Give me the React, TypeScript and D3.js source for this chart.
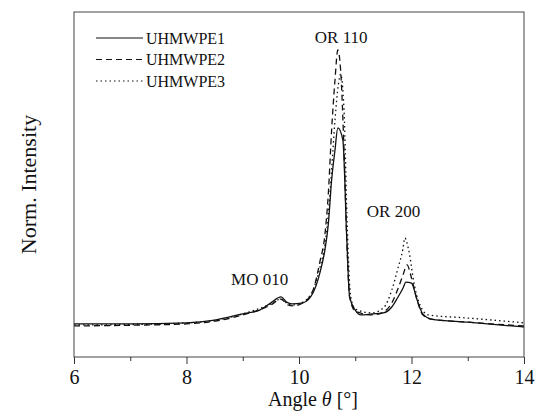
import { useEffect, useRef } from 'react'
import * as d3 from 'd3'

// diffraction angle (deg) and normalised intensity for each sample
const angle1 = [6.0, 7.0, 8.0, 8.5, 9.0, 9.3, 9.5, 9.68, 9.78, 9.87, 10.07, 10.25, 10.37, 10.46, 10.52, 10.58, 10.64, 10.69, 10.78, 10.85, 10.9, 11.0, 11.1, 11.3, 11.5, 11.65, 11.75, 11.85, 11.9, 12.0, 12.1, 12.2, 12.35, 13.0, 14.0]
const uhmwpe1 = [0.096, 0.096, 0.099, 0.107, 0.125, 0.136, 0.157, 0.174, 0.159, 0.154, 0.157, 0.186, 0.243, 0.31, 0.383, 0.513, 0.6, 0.664, 0.629, 0.339, 0.174, 0.136, 0.122, 0.125, 0.128, 0.145, 0.171, 0.2, 0.217, 0.214, 0.165, 0.125, 0.11, 0.101, 0.087]

const angle2 = [6.0, 7.0, 8.0, 8.5, 9.0, 9.5, 9.68, 9.8, 9.9, 10.07, 10.25, 10.37, 10.46, 10.52, 10.58, 10.64, 10.69, 10.74, 10.8, 10.85, 10.9, 11.0, 11.3, 11.5, 11.65, 11.75, 11.85, 11.92, 12.0, 12.1, 12.2, 12.35, 13.0, 14.0]
const uhmwpe2 = [0.09, 0.092, 0.096, 0.104, 0.122, 0.151, 0.168, 0.151, 0.148, 0.157, 0.194, 0.275, 0.354, 0.47, 0.658, 0.803, 0.89, 0.832, 0.6, 0.339, 0.174, 0.133, 0.122, 0.13, 0.157, 0.194, 0.238, 0.267, 0.229, 0.165, 0.122, 0.11, 0.101, 0.09]

const angle3 = [6.0, 7.0, 8.0, 8.5, 9.0, 9.5, 9.68, 9.8, 9.9, 10.07, 10.25, 10.37, 10.46, 10.52, 10.58, 10.64, 10.7, 10.74, 10.8, 10.86, 10.92, 11.0, 11.3, 11.5, 11.65, 11.75, 11.85, 11.88, 11.95, 12.05, 12.15, 12.3, 13.0, 14.0]
const uhmwpe3 = [0.093, 0.094, 0.099, 0.106, 0.125, 0.154, 0.168, 0.154, 0.151, 0.159, 0.194, 0.258, 0.325, 0.412, 0.542, 0.687, 0.79, 0.82, 0.716, 0.368, 0.174, 0.139, 0.128, 0.142, 0.194, 0.252, 0.316, 0.345, 0.31, 0.209, 0.151, 0.122, 0.113, 0.099]

const seriesNames = ['UHMWPE1', 'UHMWPE2', 'UHMWPE3']
const xTicks = [6, 8, 10, 12, 14]
const xMinorTicks = [7, 9, 11, 13]

const peakLabels = ['MO 010', 'OR 110', 'OR 200']
const peakAngles = [9.3, 10.75, 11.68]
const peakHeights = [0.21, 0.91, 0.405]

export default function App() {
  const svgRef = useRef<SVGSVGElement>(null)
  const width = 536
  const height = 412

  useEffect(() => {
    if (!svgRef.current) return
    const svg = d3.select(svgRef.current)
    svg.selectAll('*').remove()

    const margin = { top: 12, right: 12, bottom: 55, left: 74 }
    const x = d3.scaleLinear().domain([6, 14]).range([margin.left, width - margin.right])
    const y = d3.scaleLinear().domain([0, 1]).range([height - margin.bottom, margin.top])
    const font = '"Liberation Serif", "Times New Roman", serif'
    const ink = '#111'

    const series = [
      { xs: angle1, ys: uhmwpe1, dash: null },
      { xs: angle2, ys: uhmwpe2, dash: '6,4' },
      { xs: angle3, ys: uhmwpe3, dash: '1.5,3' },
    ]

    const line = d3.line<[number, number]>()
      .x(d => x(d[0]))
      .y(d => y(d[1]))
      .curve(d3.curveMonotoneX)

    series.forEach(s => {
      const pts = s.xs.map((a, i) => [a, s.ys[i]] as [number, number])
      svg.append('path')
        .attr('d', line(pts))
        .attr('fill', 'none')
        .attr('stroke', ink)
        .attr('stroke-width', 1.3)
        .attr('stroke-dasharray', s.dash)
    })

    // frame
    svg.append('rect')
      .attr('x', x(6)).attr('y', y(1))
      .attr('width', x(14) - x(6)).attr('height', y(0) - y(1))
      .attr('fill', 'none').attr('stroke', '#444').attr('stroke-width', 1)

    const xAxis = svg.append('g')
      .attr('transform', `translate(0,${y(0)})`)
      .call(d3.axisBottom(x).tickValues(xTicks).tickSize(7).tickPadding(6).tickFormat(d3.format('d')))
    xAxis.select('.domain').remove()
    xAxis.selectAll('text').attr('font-family', font).attr('font-size', 20).attr('fill', ink)
    xAxis.selectAll('line').attr('stroke', '#333')

    svg.append('g')
      .attr('transform', `translate(0,${y(0)})`)
      .call(d3.axisBottom(x).tickValues(xMinorTicks).tickSize(4).tickFormat(() => ''))
      .call(g => g.select('.domain').remove())
      .selectAll('line').attr('stroke', '#333')

    svg.append('text')
      .attr('x', 313).attr('y', 406)
      .attr('text-anchor', 'middle')
      .attr('font-family', font).attr('font-size', 20).attr('fill', ink)
      .html('Angle <tspan font-style="italic">θ</tspan> [°]')

    svg.append('text')
      .attr('transform', `translate(36,${(y(0) + y(1)) / 2}) rotate(-90)`)
      .attr('text-anchor', 'middle')
      .attr('font-family', font).attr('font-size', 22).attr('fill', ink)
      .text('Norm. Intensity')

    // peak annotations
    peakLabels.forEach((lbl, i) => {
      svg.append('text')
        .attr('x', x(peakAngles[i])).attr('y', y(peakHeights[i]))
        .attr('text-anchor', 'middle')
        .attr('font-family', font).attr('font-size', 17).attr('fill', ink)
        .text(lbl)
    })

    // legend
    const legend = svg.append('g')
    seriesNames.forEach((name, i) => {
      const ly = 38 + i * 21.5
      legend.append('line')
        .attr('x1', 96).attr('x2', 143).attr('y1', ly).attr('y2', ly)
        .attr('stroke', ink).attr('stroke-width', 1.2)
        .attr('stroke-dasharray', series[i].dash)
      legend.append('text')
        .attr('x', 146).attr('y', ly + 5.5)
        .attr('font-family', font).attr('font-size', 16).attr('fill', ink)
        .text(name)
    })
  }, [])

  return (
    <svg
      ref={svgRef}
      width={width}
      height={height}
      style={{ position: 'absolute', left: 0, top: 0, background: '#fff' }}
    />
  )
}
